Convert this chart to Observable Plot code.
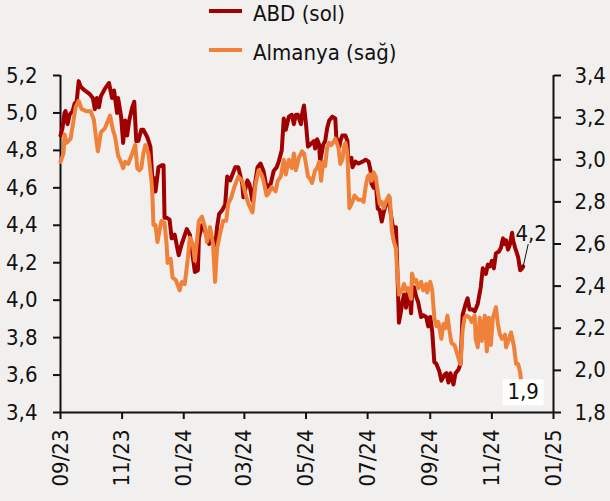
<!DOCTYPE html>
<html><head><meta charset="utf-8">
<script src="https://cdn.jsdelivr.net/npm/d3@7"></script>
<script src="https://cdn.jsdelivr.net/npm/@observablehq/plot@0.6"></script>
<style>
body{margin:0;background:#f2f0ef;}
#wrap{position:relative;width:610px;height:501px;background:#f2f0ef;font-family:"DejaVu Sans Condensed","DejaVu Sans",sans-serif;overflow:hidden;}
#chart{position:absolute;left:0;top:0;}
.sw{position:absolute;left:209px;width:33px;height:4px;}
.lt{position:absolute;left:253px;font-size:22px;line-height:22px;color:#111;white-space:nowrap;}
</style></head>
<body><div id="wrap"><div id="chart"></div>
<div class="sw" style="top:9px;background:#a00000"></div>
<div class="lt" style="top:3px">ABD (sol)</div>
<div class="sw" style="top:48px;background:#f0813a"></div>
<div class="lt" style="top:42px">Almanya (sağ)</div>
</div>
<script>
const seriesNames = ["ABD (sol)", "Almanya (sağ)"];
const xTicks = ["2023-09-01","2023-11-01","2024-01-01","2024-03-01","2024-05-01","2024-07-01","2024-09-01","2024-11-01","2025-01-01"];
const leftTicks = [3.4,3.6,3.8,4.0,4.2,4.4,4.6,4.8,5.0,5.2];
const rightTicks = [1.8,2.0,2.2,2.4,2.6,2.8,3.0,3.2,3.4];

const usDates = ["2023-09-01","2023-09-03","2023-09-05","2023-09-06","2023-09-08","2023-09-10","2023-09-13","2023-09-15","2023-09-17","2023-09-19","2023-09-21","2023-09-25","2023-09-30","2023-10-03","2023-10-05","2023-10-07","2023-10-09","2023-10-11","2023-10-15","2023-10-19","2023-10-22","2023-10-24","2023-10-27","2023-10-28","2023-10-31","2023-11-02","2023-11-04","2023-11-06","2023-11-08","2023-11-11","2023-11-13","2023-11-15","2023-11-17","2023-11-20","2023-11-22","2023-11-26","2023-11-29","2023-12-01","2023-12-03","2023-12-04","2023-12-07","2023-12-10","2023-12-12","2023-12-13","2023-12-15","2023-12-18","2023-12-20","2023-12-23","2023-12-27","2023-12-30","2024-01-04","2024-01-07","2024-01-11","2024-01-12","2024-01-15","2024-01-16","2024-01-19","2024-01-22","2024-01-26","2024-01-29","2024-02-01","2024-02-03","2024-02-05","2024-02-08","2024-02-11","2024-02-13","2024-02-16","2024-02-21","2024-02-24","2024-02-28","2024-02-29","2024-03-04","2024-03-06","2024-03-09","2024-03-14","2024-03-17","2024-03-20","2024-03-23","2024-03-27","2024-03-30","2024-04-02","2024-04-04","2024-04-07","2024-04-09","2024-04-11","2024-04-14","2024-04-17","2024-04-19","2024-04-21","2024-04-23","2024-04-26","2024-04-27","2024-04-29","2024-05-01","2024-05-03","2024-05-05","2024-05-09","2024-05-10","2024-05-12","2024-05-14","2024-05-15","2024-05-18","2024-05-20","2024-05-22","2024-05-24","2024-05-27","2024-05-30","2024-05-31","2024-06-03","2024-06-04","2024-06-06","2024-06-09","2024-06-11","2024-06-12","2024-06-15","2024-06-16","2024-06-19","2024-06-22","2024-06-26","2024-06-29","2024-07-02","2024-07-04","2024-07-05","2024-07-07","2024-07-09","2024-07-11","2024-07-13","2024-07-15","2024-07-17","2024-07-19","2024-07-22","2024-07-24","2024-07-26","2024-07-29","2024-07-30","2024-08-01","2024-08-03","2024-08-04","2024-08-06","2024-08-08","2024-08-09","2024-08-11","2024-08-13","2024-08-14","2024-08-16","2024-08-18","2024-08-20","2024-08-23","2024-08-25","2024-08-28","2024-08-30","2024-09-01","2024-09-03","2024-09-05","2024-09-07","2024-09-10","2024-09-12","2024-09-15","2024-09-17","2024-09-19","2024-09-21","2024-09-24","2024-09-26","2024-09-29","2024-10-01","2024-10-03","2024-10-06","2024-10-08","2024-10-10","2024-10-13","2024-10-15","2024-10-18","2024-10-21","2024-10-23","2024-10-26","2024-10-28","2024-10-30","2024-11-01","2024-11-03","2024-11-05","2024-11-08","2024-11-10","2024-11-12","2024-11-13","2024-11-15","2024-11-17","2024-11-19","2024-11-21","2024-11-22","2024-11-24","2024-11-27","2024-11-29","2024-12-01","2024-12-02"];
const usValues = [4.88,4.92,5.00,5.01,4.94,4.99,5.01,5.05,5.06,5.17,5.14,5.12,5.10,5.08,5.02,5.08,5.03,5.09,5.13,5.16,5.08,5.12,5.00,5.08,4.98,4.84,4.96,4.88,4.96,5.03,5.06,4.85,4.85,4.91,4.91,4.87,4.82,4.64,4.65,4.58,4.71,4.72,4.72,4.44,4.44,4.43,4.33,4.35,4.24,4.30,4.38,4.35,4.19,4.15,4.16,4.33,4.40,4.37,4.30,4.33,4.28,4.39,4.46,4.48,4.51,4.66,4.64,4.71,4.71,4.62,4.55,4.64,4.62,4.53,4.71,4.73,4.69,4.60,4.62,4.69,4.71,4.74,4.80,4.97,4.91,4.98,4.99,4.94,4.99,4.99,4.94,4.99,5.04,4.94,4.82,4.83,4.85,4.81,4.86,4.83,4.74,4.83,4.85,4.92,4.96,4.98,4.97,4.87,4.82,4.85,4.88,4.88,4.85,4.74,4.76,4.71,4.74,4.73,4.74,4.75,4.74,4.69,4.62,4.60,4.64,4.49,4.48,4.42,4.47,4.51,4.53,4.46,4.39,4.39,4.24,3.88,3.94,3.98,4.03,3.96,4.03,4.05,3.93,4.03,4.07,4.02,3.99,3.91,3.92,3.91,3.86,3.91,3.83,3.67,3.66,3.62,3.57,3.60,3.61,3.56,3.61,3.55,3.61,3.63,3.66,3.92,3.98,4.01,3.95,3.95,3.94,3.98,4.07,4.17,4.14,4.19,4.18,4.21,4.17,4.25,4.26,4.28,4.33,4.30,4.32,4.27,4.30,4.36,4.32,4.28,4.23,4.16,4.17,4.18];

const deDates = ["2023-09-01","2023-09-04","2023-09-05","2023-09-07","2023-09-09","2023-09-11","2023-09-14","2023-09-16","2023-09-19","2023-09-22","2023-09-27","2023-10-01","2023-10-04","2023-10-06","2023-10-08","2023-10-11","2023-10-15","2023-10-20","2023-10-23","2023-10-25","2023-10-28","2023-10-30","2023-11-02","2023-11-04","2023-11-07","2023-11-11","2023-11-14","2023-11-16","2023-11-18","2023-11-20","2023-11-22","2023-11-24","2023-11-27","2023-11-30","2023-12-01","2023-12-02","2023-12-04","2023-12-06","2023-12-09","2023-12-10","2023-12-13","2023-12-15","2023-12-16","2023-12-19","2023-12-21","2023-12-24","2023-12-28","2023-12-30","2024-01-02","2024-01-05","2024-01-07","2024-01-10","2024-01-12","2024-01-14","2024-01-16","2024-01-19","2024-01-22","2024-01-24","2024-01-27","2024-01-30","2024-02-01","2024-02-03","2024-02-06","2024-02-09","2024-02-12","2024-02-14","2024-02-17","2024-02-20","2024-02-24","2024-02-28","2024-03-02","2024-03-05","2024-03-09","2024-03-12","2024-03-15","2024-03-18","2024-03-20","2024-03-23","2024-03-25","2024-03-28","2024-04-01","2024-04-03","2024-04-06","2024-04-09","2024-04-11","2024-04-14","2024-04-17","2024-04-19","2024-04-21","2024-04-24","2024-04-27","2024-04-29","2024-05-01","2024-05-03","2024-05-05","2024-05-07","2024-05-10","2024-05-12","2024-05-14","2024-05-16","2024-05-18","2024-05-20","2024-05-22","2024-05-24","2024-05-26","2024-05-29","2024-05-30","2024-06-02","2024-06-04","2024-06-06","2024-06-08","2024-06-09","2024-06-11","2024-06-12","2024-06-13","2024-06-16","2024-06-18","2024-06-22","2024-06-25","2024-06-27","2024-06-29","2024-07-01","2024-07-03","2024-07-05","2024-07-07","2024-07-09","2024-07-11","2024-07-13","2024-07-15","2024-07-17","2024-07-19","2024-07-22","2024-07-23","2024-07-25","2024-07-27","2024-07-29","2024-07-30","2024-08-01","2024-08-04","2024-08-06","2024-08-08","2024-08-10","2024-08-13","2024-08-14","2024-08-16","2024-08-18","2024-08-20","2024-08-23","2024-08-25","2024-08-28","2024-08-29","2024-09-01","2024-09-03","2024-09-05","2024-09-07","2024-09-09","2024-09-12","2024-09-14","2024-09-16","2024-09-18","2024-09-20","2024-09-22","2024-09-25","2024-09-27","2024-09-30","2024-10-01","2024-10-03","2024-10-05","2024-10-07","2024-10-10","2024-10-12","2024-10-15","2024-10-16","2024-10-18","2024-10-20","2024-10-22","2024-10-25","2024-10-27","2024-10-29","2024-10-31","2024-11-02","2024-11-05","2024-11-07","2024-11-09","2024-11-11","2024-11-14","2024-11-15","2024-11-18","2024-11-20","2024-11-23","2024-11-25","2024-11-27","2024-11-29","2024-11-30","2024-12-01"];
const deValues = [2.99,3.03,3.12,3.08,3.09,3.10,3.19,3.25,3.28,3.24,3.23,3.23,3.19,3.11,3.04,3.13,3.15,3.21,3.14,3.11,3.02,3.00,2.96,2.99,2.98,3.03,3.07,2.96,2.95,2.96,3.03,3.07,3.03,2.90,2.83,2.69,2.69,2.61,2.69,2.71,2.70,2.60,2.51,2.53,2.44,2.43,2.38,2.42,2.41,2.53,2.63,2.60,2.52,2.61,2.71,2.73,2.68,2.61,2.68,2.60,2.42,2.58,2.65,2.71,2.71,2.79,2.82,2.87,2.92,2.90,2.84,2.79,2.75,2.88,2.95,2.93,2.90,2.83,2.84,2.87,2.85,2.90,2.92,3.00,2.93,3.00,2.96,3.03,2.95,3.01,3.04,3.03,2.98,2.92,2.91,2.89,2.95,2.96,2.99,2.90,2.99,2.97,3.06,3.08,3.07,3.09,3.10,3.06,2.98,3.00,3.07,3.08,3.03,2.90,2.77,2.80,2.83,2.81,2.81,2.80,2.87,2.92,2.93,2.90,2.94,2.92,2.85,2.79,2.80,2.77,2.80,2.83,2.82,2.66,2.61,2.58,2.49,2.36,2.38,2.41,2.38,2.39,2.34,2.46,2.42,2.43,2.39,2.42,2.38,2.41,2.37,2.42,2.38,2.25,2.21,2.23,2.15,2.22,2.20,2.26,2.19,2.13,2.12,2.09,2.04,2.03,2.19,2.25,2.26,2.25,2.23,2.26,2.15,2.11,2.25,2.14,2.26,2.09,2.25,2.12,2.25,2.30,2.22,2.17,2.15,2.17,2.11,2.15,2.18,2.11,2.03,2.03,1.99,1.95,1.92];

const colors = ["#a00000", "#f0813a"];
const fmt = v => v.toFixed(1).replace(".", ",");
// right axis (1.8–3.4) mapped onto left axis (3.4–5.2)
const toLeft = r => 3.4 + (r - 1.8) * (5.2 - 3.4) / (3.4 - 1.8);
const fromLeft = v => 1.8 + (v - 3.4) * (3.4 - 1.8) / (5.2 - 3.4);

const us = usDates.map((d, i) => ({date: new Date(d), v: usValues[i], raw: usValues[i]}));
const de = deDates.map((d, i) => ({date: new Date(d), v: toLeft(deValues[i]), raw: deValues[i]}));
const usLast = us[us.length - 1];
const deLast = de[de.length - 1];
const x0 = new Date(xTicks[0]), x1 = new Date(xTicks[xTicks.length - 1]);

const boxSymbol = {draw(ctx) { ctx.rect(-20.5, -13, 41, 26); }};
const FONT = "DejaVu Sans Condensed";

const chart = Plot.plot({
  width: 610, height: 501,
  marginLeft: 60, marginRight: 57, marginTop: 75, marginBottom: 89,
  style: {background: "transparent", fontFamily: FONT, fontSize: "22px", color: "#111", overflow: "visible"},
  x: {type: "utc", domain: [x0, x1]},
  y: {domain: [3.4, 5.2]},
  marks: [
    Plot.axisX(xTicks.map(d => new Date(d)), {tickFormat: d3.utcFormat("%m/%y"), tickRotate: -90, tickSize: 7, tickPadding: 10, strokeWidth: 2, label: null, fontSize: 22}),
    Plot.axisY(leftTicks, {anchor: "left", tickFormat: fmt, tickSize: 7, tickPadding: 16, strokeWidth: 2, label: null, fontSize: 22}),
    Plot.axisY(rightTicks.map(toLeft), {anchor: "right", tickFormat: v => fmt(fromLeft(v)), tickSize: 7, tickPadding: 14, strokeWidth: 2, label: null, fontSize: 22}),
    Plot.ruleY([3.4], {strokeWidth: 2, stroke: "#111"}),
    Plot.ruleX([x0, x1], {strokeWidth: 2, stroke: "#111"}),
    Plot.line(us, {x: "date", y: "v", stroke: colors[0], strokeWidth: 4}),
    Plot.line(de, {x: "date", y: "v", stroke: colors[1], strokeWidth: 4}),
    Plot.link([usLast], {x1: "date", y1: "v", x2: d => d3.utcDay.offset(d.date, 5), y2: d => d.v + 0.12, stroke: "#111", strokeWidth: 1}),
    Plot.text([usLast], {x: "date", y: "v", text: d => fmt(d.raw), dx: 8, dy: -33, fontSize: 22, fill: "#111"}),
    Plot.dot([deLast], {x: "date", y: "v", symbol: boxSymbol, r: 5, fill: "white", stroke: "none", dx: 1, dy: 5}),
    Plot.text([deLast], {x: "date", y: "v", text: d => fmt(d.raw), dx: 1, dy: 5, fontSize: 22, fill: "#111"})
  ]
});
document.getElementById("chart").appendChild(chart);
</script>
</body></html>
